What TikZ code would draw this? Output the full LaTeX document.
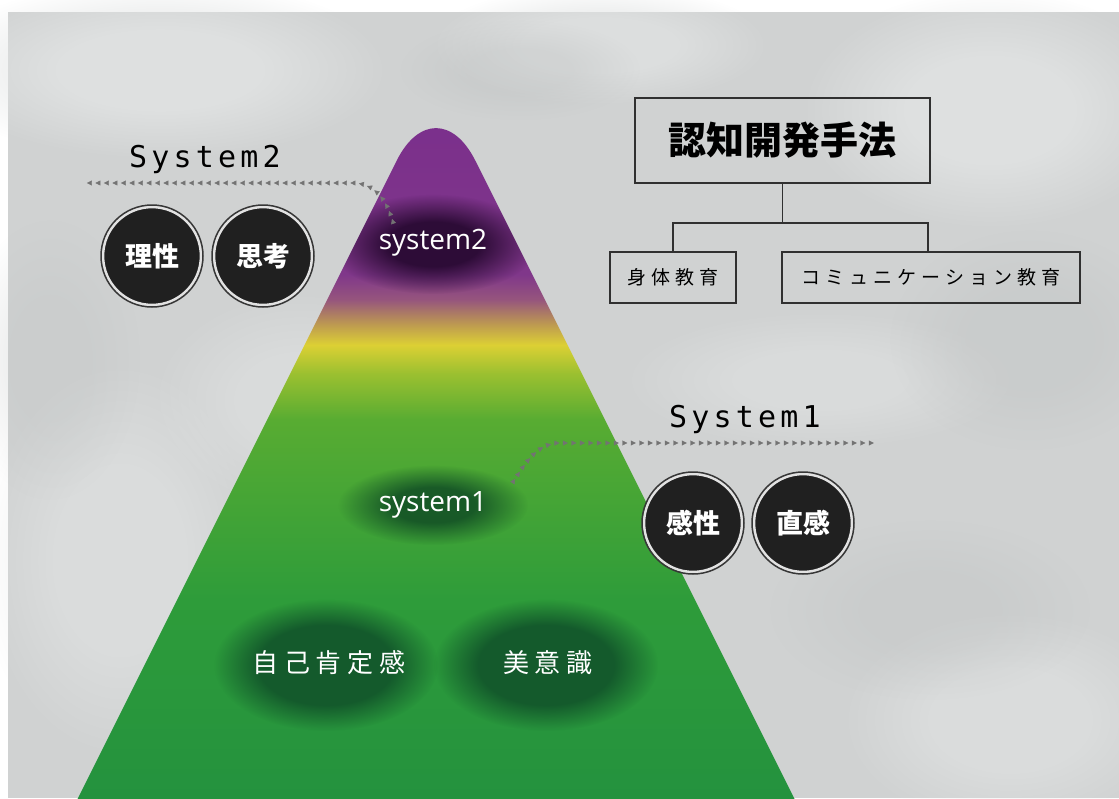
\documentclass[tikz,border=0pt]{standalone}
\usepackage{fontspec}
\usetikzlibrary{fadings,decorations.markings,arrows.meta}
\newfontfamily\jp{Noto Sans CJK JP}
\newfontfamily\jpsp{Noto Sans CJK JP}[LetterSpace=22]
\newfontfamily\jpsm{Noto Sans CJK JP}[LetterSpace=26]
\newfontfamily\monof{DejaVu Sans Mono}[LetterSpace=14]
\newfontfamily\latf{Open Sans}

\definecolor{bg}{RGB}{208,210,210}
\definecolor{bglight}{RGB}{226,228,228}
\definecolor{bgdark}{RGB}{190,193,193}
\definecolor{g0}{RGB}{36,146,62}
\definecolor{g1}{RGB}{46,156,58}
\definecolor{g2}{RGB}{88,172,50}
\definecolor{g3}{RGB}{155,192,48}
\definecolor{yel}{RGB}{220,208,52}
\definecolor{org}{RGB}{190,155,80}
\definecolor{p1}{RGB}{150,85,125}
\definecolor{p2}{RGB}{128,55,138}
\definecolor{p3}{RGB}{122,46,140}
\definecolor{darkpurple}{RGB}{45,12,55}
\definecolor{darkgreen}{RGB}{20,82,38}
\definecolor{darkgreenb}{RGB}{20,90,44}
\definecolor{badgefill}{RGB}{32,32,32}
\definecolor{ringcol}{RGB}{55,55,55}
\definecolor{ringgap}{RGB}{226,226,226}
\definecolor{linecol}{RGB}{48,48,48}
\definecolor{chaincol}{RGB}{115,115,115}

\pgfdeclareverticalshading{pyr}{100bp}{color(0bp)=(g0); color(25bp)=(g0); color(39.2bp)=(g1); color(52.1bp)=(g2); color(55.4bp)=(g3); color(57.45bp)=(yel); color(58.9bp)=(org); color(60.7bp)=(p1); color(62.5bp)=(p2); color(75bp)=(p3); color(100bp)=(p3)}

\pgfdeclareradialshading{blobshade}{\pgfpoint{0bp}{0bp}}{color(0bp)=(white); color(11bp)=(white); color(25bp)=(black); color(50bp)=(black)}
\pgfdeclarefading{softblob}{\pgfuseshading{blobshade}}
\pgfdeclareradialshading{coreshade}{\pgfpoint{0bp}{0bp}}{color(0bp)=(white); color(15bp)=(white); color(25bp)=(black); color(50bp)=(black)}
\pgfdeclarefading{coreblob}{\pgfuseshading{coreshade}}

\tikzset{
  blob/.style={path fading=softblob},
  core/.style={path fading=coreblob},
  badge/.style={circle, minimum size=98pt, inner sep=0pt, fill=badgefill, draw=ringgap, line width=2.6pt, text=white, font=\jp\bfseries\fontsize{27}{27}\selectfont},
  ring/.style={draw=ringcol, line width=1.5pt},
  treebox/.style={draw=linecol, line width=1.3pt, inner sep=0pt, text=black},
  treeline/.style={draw=linecol, line width=1.3pt},
  syslabel/.style={font=\monof\fontsize{30}{30}\selectfont, text=black},
  inner/.style={text=white, font=\latf\fontsize{28}{28}\selectfont},
  ovaltext/.style={text=white, font=\jpsp\fontsize{26}{26}\selectfont},
  arrowchain/.style={decorate, decoration={markings, mark=between positions 0.01 and 1 step 8.5pt with {\arrow[chaincol]{Triangle[length=5pt,width=5pt]}}}}
}

\begin{document}
\begin{tikzpicture}[x=1pt,y=-1pt]
\useasboundingbox (0,0) rectangle (1119,798);
\fill[white] (0,0) rectangle (1119,798);
\fill[bg] (8,12) rectangle (1119,798);
% background texture
\fill[bglight,blob,opacity=0.8] (160,70) ellipse (230 and 90);
\fill[bglight,blob,opacity=0.7] (600,45) ellipse (170 and 60);
\fill[bglight,blob,opacity=0.8] (990,110) ellipse (190 and 120);
\fill[bglight,blob,opacity=0.6] (120,560) ellipse (140 and 200);
\fill[bglight,blob,opacity=0.6] (1010,720) ellipse (170 and 110);
\fill[bglight,blob,opacity=0.5] (820,380) ellipse (200 and 70);
\fill[bglight,blob,opacity=0.5] (300,400) ellipse (150 and 110);
\fill[bgdark,blob,opacity=0.35] (520,70) ellipse (120 and 50);
\fill[bgdark,blob,opacity=0.35] (1030,340) ellipse (140 and 110);
\fill[bgdark,blob,opacity=0.3] (930,610) ellipse (160 and 90);
\fill[bgdark,blob,opacity=0.25] (50,360) ellipse (90 and 140);

% pyramid
\coordinate (apex) at (436,82);
\coordinate (bl) at (28,898);
\coordinate (br) at (844,898);
\begin{scope}
  \clip[rounded corners=88pt] (bl) -- (apex) -- (br) -- cycle;
  \shade[shading=pyr] (0,100) rectangle (1119,798);
  \fill[darkpurple,blob] (433,244) ellipse (105 and 50);
  \fill[darkgreen,blob,opacity=0.9] (433,505) ellipse (95 and 40);
  \fill[darkgreenb,core] (326,665) ellipse (112 and 66);
  \fill[darkgreenb,core] (546,665) ellipse (112 and 66);
\end{scope}

% texts inside pyramid
\node[inner] (sys2) at (433,243) {system2};
\node[inner] (sys1) at (433,505) {system1};
\node[ovaltext] (jiko) at (329,663) {自己肯定感};
\node[ovaltext] (bi) at (548,663) {美意識};

% system labels
\node[syslabel] (S2) at (205,159) {System2};
\node[syslabel] (S1) at (745,419) {System1};

% arrow chains
\coordinate (s2a) at (393,222);
\coordinate (s2b) at (352,183);
\coordinate (s2c) at (83,183);
\path[arrowchain] (s2a) .. controls (386,200) and (375,183) .. (s2b) -- (s2c);
\coordinate (s1a) at (513,482);
\coordinate (s1b) at (560,443);
\coordinate (s1c) at (879,443);
\path[arrowchain] (s1a) .. controls (524,466) and (536,443) .. (s1b) -- (s1c);

% badges
\node[badge] (risei) at (152,256) {理性};
\node[badge] (shikou) at (263,256) {思考};
\node[badge] (kansei) at (693,523) {感性};
\node[badge] (chokkan) at (803,523) {直感};
\foreach \n in {risei,shikou,kansei,chokkan}
  \draw[ring] (\n.center) circle[radius=51pt];

% tree
\node[treebox, minimum width=295pt, minimum height=85pt, font=\jp\bfseries\fontsize{38}{38}\selectfont] (top) at (782.5,140.5) {認知開発手法};
\node[treebox, minimum width=126pt, minimum height=51pt, font=\jpsm\fontsize{19}{19}\selectfont] (b1) at (673,277.5) {身体教育};
\node[treebox, minimum width=298pt, minimum height=51pt, font=\jpsm\fontsize{19}{19}\selectfont] (b2) at (931,277.5) {コミュニケーション教育};
\coordinate (junc) at (782.5,223);
\draw[treeline] (top.south) -- (junc);
\draw[treeline] (b1.north) |- (junc) -| ([xshift=-3pt]b2.north);
\end{tikzpicture}
\end{document}
